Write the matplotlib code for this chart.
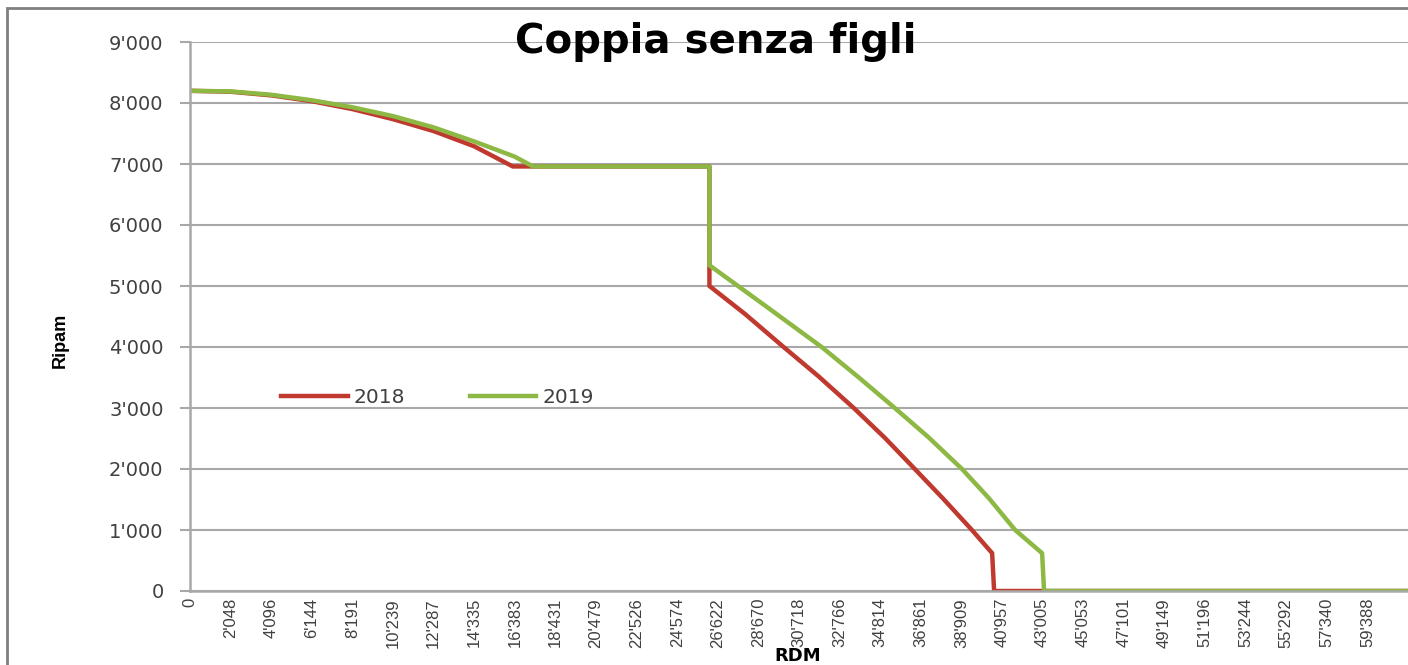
import matplotlib
matplotlib.use('Agg')
from matplotlib import pyplot as plt
from matplotlib.patches import Rectangle
from matplotlib.ticker import FuncFormatter

# RDM values (x) and Ripam (y)
x_2018 = [0, 2048, 4096, 6144, 8191, 10239, 12287, 14335, 16280, 26200, 26200,
          28000, 29940, 31700, 33480, 35050, 36560, 38000, 39440, 40460, 40560, 61436]
y_2018 = [8200, 8185, 8125, 8030, 7900, 7735, 7540, 7290, 6960, 6960, 5000,
          4540, 4000, 3520, 3000, 2510, 2000, 1510, 1000, 620, 0, 0]

x_2019 = [0, 2048, 4096, 6144, 8191, 10239, 12287, 14335, 16383, 17300, 26200, 26200,
          29000, 31860, 33700, 35550, 37250, 38940, 40300, 41620, 42300, 42980, 43080, 61436]
y_2019 = [8200, 8190, 8135, 8045, 7930, 7785, 7600, 7370, 7120, 6960, 6960, 5340,
          4680, 4000, 3510, 3000, 2520, 2000, 1520, 1000, 810, 620, 0, 0]

xtick_labels = ['0', "2'048", "4'096", "6'144", "8'191", "10'239", "12'287", "14'335",
                "16'383", "18'431", "20'479", "22'526", "24'574", "26'622", "28'670",
                "30'718", "32'766", "34'814", "36'861", "38'909", "40'957", "43'005",
                "45'053", "47'101", "49'149", "51'196", "53'244", "55'292", "57'340",
                "59'388"]
yticks = [0, 1000, 2000, 3000, 4000, 5000, 6000, 7000, 8000, 9000]

RED = '#C0392F'
GREEN = '#8DB843'
GRID = '#A8A8A8'
TXT = '#404040'
STEP = 2047.87

fig = plt.figure(figsize=(14.08, 6.65), dpi=100)
ax = fig.add_axes([190/1408, 1 - 591/665, 1 - 190/1408, (591 - 42)/665])

ax.plot(x_2018, y_2018, color=RED, lw=3.2, label='2018', solid_joinstyle='round')
ax.plot(x_2019, y_2019, color=GREEN, lw=3.2, label='2019', solid_joinstyle='round')

ax.set_xlim(0, 30 * STEP)
ax.set_ylim(0, 9000)
ax.set_yticks(yticks)
ax.yaxis.set_major_formatter(FuncFormatter(lambda v, p: '0' if v == 0 else "%d'%03d" % (v // 1000, v % 1000)))
ax.set_xticks([i * STEP for i in range(len(xtick_labels))])
ax.set_xticklabels(xtick_labels, rotation=90, fontsize=12, color=TXT, va='top',
                   family=['Liberation Sans', 'DejaVu Sans'])
ax.tick_params(axis='x', length=0, pad=5)
ax.tick_params(axis='y', length=7, width=1.5, color=GRID, pad=12, labelsize=14, labelcolor=TXT)

ax.grid(axis='y', color=GRID, lw=1.5)
ax.set_axisbelow(True)
for s in ['top', 'right']:
    ax.spines[s].set_visible(False)
for s in ['left', 'bottom']:
    ax.spines[s].set_color(GRID)
    ax.spines[s].set_linewidth(1.8)

ax.legend(loc='center', bbox_to_anchor=(0.203, 0.353), ncol=2, frameon=False,
          handlelength=3.3, columnspacing=3.2, handletextpad=0.3,
          prop={'size': 14.5}, labelcolor=TXT)

fig.text(716/1408, 1 - 42/665, 'Coppia senza figli', ha='center', va='center',
         fontsize=29, fontweight='bold', color='black')
fig.text(60/1408, 1 - 340/665, 'Ripam', rotation=90, ha='center', va='center',
         fontsize=13, fontweight='bold', family=['Liberation Sans', 'DejaVu Sans'])
fig.text(798/1408, 1 - 656/665, 'RDM', ha='center', va='center',
         fontsize=13, fontweight='bold')

# outer chart border (only left and top are visible in the crop)
fig.patches.append(Rectangle((7/1408, -0.2), 2, 1.2 - 8/665, transform=fig.transFigure,
                             fill=False, edgecolor='#7F7F7F', lw=2))

fig.savefig('out.png', dpi=100)
